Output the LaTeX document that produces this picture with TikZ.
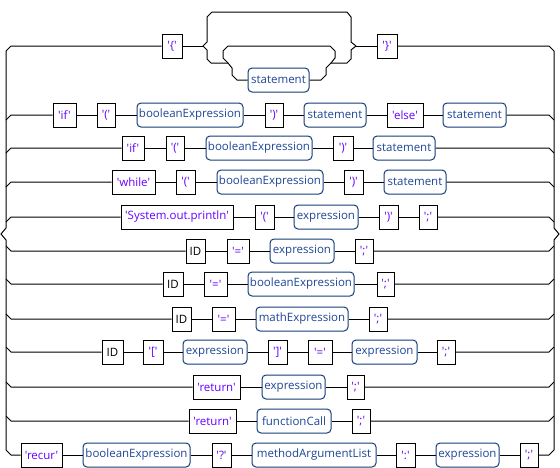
\documentclass[tikz,border=0pt]{standalone}
\usepackage{fontspec}
\newfontfamily\rrfont{Open Sans}
\definecolor{termtext}{RGB}{102,0,255}
\definecolor{ntborder}{RGB}{20,60,120}
\definecolor{nttext}{RGB}{30,70,150}
\newcommand\q[1]{\symbol{39}#1\symbol{39}}
\newcommand\T[5]{\node[term, minimum width={#3-#2}] (#1) at ({(#2+#3)/2},#4) {#5};}
\newcommand\N[5]{\node[nonterm, minimum width={#3-#2}] (#1) at ({(#2+#3)/2},#4) {#5};}
\begin{document}
\begin{tikzpicture}[x=1pt,y=-1pt,
  line width=1pt,
  rail/.style={draw=black, line width=1pt},
  term/.style={draw=black, line width=1pt, fill=white, minimum height=24pt, inner sep=0pt,
    text=termtext, font=\rrfont\fontsize{11.5}{13}\selectfont},
  tok/.style={text=black},
  nonterm/.style={draw=ntborder, line width=1pt, fill=white, rounded corners=4pt, minimum height=24pt,
    inner sep=0pt, text=nttext, font=\rrfont\fontsize{11.5}{13}\selectfont}]
\useasboundingbox (0,0) rectangle (560,467);

% ---- outer rails ----
\draw[rail] (6,51) -- (6,228) -- (1,234) -- (6,240) -- (6,450);
\draw[rail] (554,51) -- (554,228) -- (559,234) -- (554,240) -- (554,450);

% ---- row 0 ----
\T{ob}{162}{182}{46}{\q{\{}}
\N{st0}{248}{309}{80}{statement}
\T{cb}{377}{397}{46}{\q{\}}}
\coordinate (j0l) at (203,46);
\coordinate (j0r) at (356,46);
\draw[rail] (6,51) -- (11,46) -- (ob.west);
\draw[rail] (ob.east) -- (j0l);
\draw[rail] (j0l) -- (207,42) -- (207,17) -- (212,12) -- (347,12) -- (351,17) -- (351,42) -- (j0r);
\draw[rail] (j0l) -- (207,50) -- (207,59) -- (211,63) -- (228,63) -- (232,68) -- (232,75) -- (237,80) -- (st0.west);
\draw[rail] (st0.east) -- (321,80) -- (326,75) -- (326,68) -- (331,63) -- (347,63) -- (351,59) -- (351,50) -- (j0r);
\draw[rail] (228,63) -- (223,58) -- (223,51) -- (228,46) -- (330,46) -- (335,51) -- (335,58) -- (331,63);
\draw[rail] (j0r) -- (cb.west);
\draw[rail] (cb.east) -- (549,46) -- (554,51);

% ---- row 1 ----
\T{a1}{53}{76}{115}{\q{if}}
\T{a2}{97}{115}{115}{\q{(}}
\N{a3}{137}{243}{115}{booleanExpression}
\T{a4}{265}{283}{115}{\q{)}}
\N{a5}{304}{366}{115}{statement}
\T{a6}{387}{423}{115}{\q{else}}
\N{a7}{443}{506}{115}{statement}
\draw[rail] (6,120) -- (11,115) -- (a1.west);
\draw[rail] (a1)--(a2) (a2)--(a3) (a3)--(a4) (a4)--(a5) (a5)--(a6) (a6)--(a7);
\draw[rail] (a7.east) -- (549,115) -- (554,120);

% ---- row 2 ----
\T{b1}{122}{144}{148}{\q{if}}
\T{b2}{166}{184}{148}{\q{(}}
\N{b3}{206}{312}{148}{booleanExpression}
\T{b4}{333}{353}{148}{\q{)}}
\N{b5}{373}{435}{148}{statement}
\draw[rail] (6,153) -- (11,148) -- (b1.west);
\draw[rail] (b1)--(b2) (b2)--(b3) (b3)--(b4) (b4)--(b5);
\draw[rail] (b5.east) -- (549,148) -- (554,153);

% ---- row 3 ----
\T{c1}{112}{155}{182}{\q{while}}
\T{c2}{176}{195}{182}{\q{(}}
\N{c3}{217}{323}{182}{booleanExpression}
\T{c4}{344}{363}{182}{\q{)}}
\N{c5}{384}{446}{182}{statement}
\draw[rail] (6,187) -- (11,182) -- (c1.west);
\draw[rail] (c1)--(c2) (c2)--(c3) (c3)--(c4) (c4)--(c5);
\draw[rail] (c5.east) -- (549,182) -- (554,187);

% ---- row 4 ----
\T{d1}{121}{233}{217}{\q{System.out.println}}
\T{d2}{255}{274}{217}{\q{(}}
\N{d3}{294}{358}{217}{expression}
\T{d4}{379}{398}{217}{\q{)}}
\T{d5}{419}{437}{217}{\q{;}}
\draw[rail] (6,222) -- (11,217) -- (d1.west);
\draw[rail] (d1)--(d2) (d2)--(d3) (d3)--(d4) (d4)--(d5);
\draw[rail] (d5.east) -- (549,217) -- (554,222);

% ---- row 5 ----
\T{e1}{186}{205}{251}{\textcolor{black}{ID}}
\T{e2}{227}{249}{251}{\q{=}}
\N{e3}{270}{334}{251}{expression}
\T{e4}{355}{373}{251}{\q{;}}
\draw[rail] (6,246) -- (11,251) -- (e1.west);
\draw[rail] (e1)--(e2) (e2)--(e3) (e3)--(e4);
\draw[rail] (e4.east) -- (549,251) -- (554,246);

% ---- row 6 ----
\T{f1}{163}{183}{284}{\textcolor{black}{ID}}
\T{f2}{204}{227}{284}{\q{=}}
\N{f3}{248}{354}{284}{booleanExpression}
\T{f4}{377}{394}{284}{\q{;}}
\draw[rail] (6,279) -- (11,284) -- (f1.west);
\draw[rail] (f1)--(f2) (f2)--(f3) (f3)--(f4);
\draw[rail] (f4.east) -- (549,284) -- (554,279);

% ---- row 7 ----
\T{g1}{172}{191}{319}{\textcolor{black}{ID}}
\T{g2}{212}{235}{319}{\q{=}}
\N{g3}{256}{348}{319}{mathExpression}
\T{g4}{369}{387}{319}{\q{;}}
\draw[rail] (6,314) -- (11,319) -- (g1.west);
\draw[rail] (g1)--(g2) (g2)--(g3) (g3)--(g4);
\draw[rail] (g4.east) -- (549,319) -- (554,314);

% ---- row 8 ----
\T{h1}{102}{123}{352}{\textcolor{black}{ID}}
\T{h2}{143}{163}{352}{\q{[}}
\N{h3}{183}{247}{352}{expression}
\T{h4}{268}{287}{352}{\q{]}}
\T{h5}{308}{332}{352}{\q{=}}
\N{h6}{352}{417}{352}{expression}
\T{h7}{437}{455}{352}{\q{;}}
\draw[rail] (6,347) -- (11,352) -- (h1.west);
\draw[rail] (h1)--(h2) (h2)--(h3) (h3)--(h4) (h4)--(h5) (h5)--(h6) (h6)--(h7);
\draw[rail] (h7.east) -- (549,352) -- (554,347);

% ---- row 9 ----
\T{i1}{193}{240}{387}{\q{return}}
\N{i2}{262}{325}{387}{expression}
\T{i3}{347}{364}{387}{\q{;}}
\draw[rail] (6,382) -- (11,387) -- (i1.west);
\draw[rail] (i1)--(i2) (i2)--(i3);
\draw[rail] (i3.east) -- (549,387) -- (554,382);

% ---- row 10 ----
\T{k1}{189}{236}{421}{\q{return}}
\N{k2}{257}{331}{421}{functionCall}
\T{k3}{352}{370}{421}{\q{;}}
\draw[rail] (6,416) -- (11,421) -- (k1.west);
\draw[rail] (k1)--(k2) (k2)--(k3);
\draw[rail] (k3.east) -- (549,421) -- (554,416);

% ---- row 11 ----
\T{m1}{21}{62}{455}{\q{recur}}
\N{m2}{83}{190}{455}{booleanExpression}
\T{m3}{212}{231}{455}{\q{?}}
\N{m4}{252}{376}{455}{methodArgumentList}
\T{m5}{396}{415}{455}{\q{:}}
\N{m6}{436}{499}{455}{expression}
\T{m7}{520}{538}{455}{\q{;}}
\draw[rail] (6,450) -- (11,455) -- (m1.west);
\draw[rail] (m1)--(m2) (m2)--(m3) (m3)--(m4) (m4)--(m5) (m5)--(m6) (m6)--(m7);
\draw[rail] (m7.east) -- (549,455) -- (554,450);
\end{tikzpicture}
\end{document}
